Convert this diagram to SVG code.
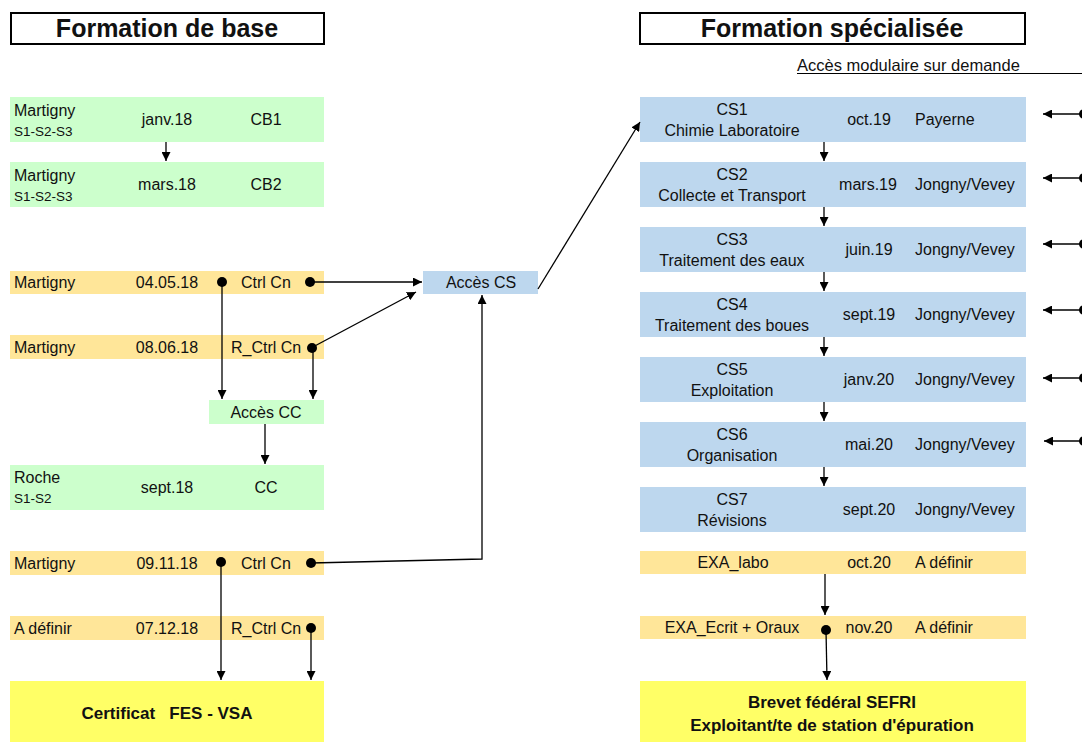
<svg xmlns="http://www.w3.org/2000/svg" width="1082" height="742" viewBox="0 0 1082 742">
<defs>
<marker id="ah" viewBox="0 0 10 10" refX="10" refY="5" markerWidth="9" markerHeight="9" markerUnits="userSpaceOnUse" orient="auto"><path d="M0,0 L10,5 L0,10 z" fill="#000"/></marker>
</defs>
<style>
text{font-family:"Liberation Sans",Arial,sans-serif;font-size:16px;fill:#111}
.s{font-size:13.5px}
.t{font-size:25px;font-weight:bold;text-anchor:middle}
.b{font-size:17px;font-weight:bold;text-anchor:middle;white-space:pre}
.m{text-anchor:middle}
.g{fill:#ccffcc}.o{fill:#ffe699}.bl{fill:#bdd7ee}.y{fill:#ffff66}
.c line,.c polyline{stroke:#000;stroke-width:1.3;fill:none}
.c .a{marker-end:url(#ah)}
.d{fill:#000}
</style>
<rect width="1082" height="742" fill="#fff"/>
<g id="title-base"><rect x="11" y="13" width="313" height="31" fill="#fff" stroke="#000" stroke-width="2"/><text class="t" x="167" y="37">Formation de base</text></g>
<g id="title-spec"><rect x="640" y="13" width="385" height="31" fill="#fff" stroke="#000" stroke-width="2"/><text class="t" x="832" y="37">Formation spécialisée</text></g>
<g id="acces-modulaire"><text x="797" y="71" style="font-size:16.5px">Accès modulaire sur demande</text><line x1="797" y1="73.5" x2="1082" y2="73.5" stroke="#000" stroke-width="1"/></g>

<g id="cb1"><rect class="g" x="10" y="97" width="314" height="45"/><text x="14" y="116">Martigny</text><text class="s" x="14" y="136">S1-S2-S3</text><text class="m" x="167" y="125">janv.18</text><text class="m" x="266" y="125">CB1</text></g>
<g id="cb2"><rect class="g" x="10" y="162" width="314" height="45"/><text x="14" y="181">Martigny</text><text class="s" x="14" y="201">S1-S2-S3</text><text class="m" x="167" y="190">mars.18</text><text class="m" x="266" y="190">CB2</text></g>
<g id="ctrl1"><rect class="o" x="10" y="271" width="314" height="23"/><text x="14" y="288">Martigny</text><text class="m" x="167" y="288">04.05.18</text><text x="241" y="288">Ctrl Cn</text></g>
<g id="rctrl1"><rect class="o" x="10" y="335" width="314" height="24"/><text x="14" y="353">Martigny</text><text class="m" x="167" y="353">08.06.18</text><text x="231" y="353">R_Ctrl Cn</text></g>
<g id="acces-cc"><rect class="g" x="209" y="400" width="115" height="24"/><text class="m" x="266" y="418">Accès CC</text></g>
<g id="cc"><rect class="g" x="10" y="465" width="314" height="45"/><text x="14" y="483">Roche</text><text class="s" x="14" y="503">S1-S2</text><text class="m" x="167" y="493">sept.18</text><text class="m" x="266" y="493">CC</text></g>
<g id="ctrl2"><rect class="o" x="10" y="551" width="314" height="24"/><text x="14" y="569">Martigny</text><text class="m" x="167" y="569">09.11.18</text><text x="241" y="569">Ctrl Cn</text></g>
<g id="rctrl2"><rect class="o" x="10" y="616" width="314" height="24"/><text x="14" y="634">A définir</text><text class="m" x="167" y="634">07.12.18</text><text x="231" y="634">R_Ctrl Cn</text></g>
<g id="certificat"><rect class="y" x="10" y="681" width="314" height="61"/><text class="b" x="167" y="719">Certificat   FES - VSA</text></g>
<g id="acces-cs"><rect class="bl" x="423" y="271" width="115" height="23"/><text class="m" x="481" y="288">Accès CS</text></g>

<g id="cs1"><rect class="bl" x="640" y="97" width="386" height="45"/><text class="m" x="732" y="115">CS1</text><text class="m" x="732" y="136">Chimie Laboratoire</text><text class="m" x="869" y="125">oct.19</text><text x="915" y="125">Payerne</text></g>
<g id="cs2"><rect class="bl" x="640" y="162" width="386" height="45"/><text class="m" x="732" y="180">CS2</text><text class="m" x="732" y="201">Collecte et Transport</text><text class="m" x="868" y="190">mars.19</text><text x="915" y="190">Jongny/Vevey</text></g>
<g id="cs3"><rect class="bl" x="640" y="227" width="386" height="45"/><text class="m" x="732" y="245">CS3</text><text class="m" x="732" y="266">Traitement des eaux</text><text class="m" x="869" y="255">juin.19</text><text x="915" y="255">Jongny/Vevey</text></g>
<g id="cs4"><rect class="bl" x="640" y="292" width="386" height="45"/><text class="m" x="732" y="310">CS4</text><text class="m" x="732" y="331">Traitement des boues</text><text class="m" x="869" y="320">sept.19</text><text x="915" y="320">Jongny/Vevey</text></g>
<g id="cs5"><rect class="bl" x="640" y="357" width="386" height="45"/><text class="m" x="732" y="375">CS5</text><text class="m" x="732" y="396">Exploitation</text><text class="m" x="869" y="385">janv.20</text><text x="915" y="385">Jongny/Vevey</text></g>
<g id="cs6"><rect class="bl" x="640" y="422" width="386" height="45"/><text class="m" x="732" y="440">CS6</text><text class="m" x="732" y="461">Organisation</text><text class="m" x="869" y="450">mai.20</text><text x="915" y="450">Jongny/Vevey</text></g>
<g id="cs7"><rect class="bl" x="640" y="487" width="386" height="45"/><text class="m" x="732" y="505">CS7</text><text class="m" x="732" y="526">Révisions</text><text class="m" x="869" y="515">sept.20</text><text x="915" y="515">Jongny/Vevey</text></g>
<g id="exa-labo"><rect class="o" x="640" y="551" width="386" height="23"/><text class="m" x="733" y="568">EXA_labo</text><text class="m" x="869" y="568">oct.20</text><text x="915" y="568">A définir</text></g>
<g id="exa-ecrit"><rect class="o" x="640" y="616" width="386" height="23"/><text class="m" x="732" y="633">EXA_Ecrit + Oraux</text><text class="m" x="869" y="633">nov.20</text><text x="915" y="633">A définir</text></g>
<g id="brevet"><rect class="y" x="640" y="681" width="386" height="61"/><text class="b" x="832" y="708">Brevet fédéral SEFRI</text><text class="b" x="832" y="731">Exploitant/te de station d'épuration</text></g>

<g id="connectors" class="c">
<line class="a" x1="166" y1="142" x2="166" y2="161"/>
<line class="a" x1="310" y1="282" x2="422" y2="282"/>
<line class="a" x1="222" y1="282" x2="222" y2="399"/>
<line class="a" x1="311" y1="348" x2="416" y2="292"/>
<line class="a" x1="313" y1="348" x2="313" y2="399"/>
<line class="a" x1="265" y1="424" x2="265" y2="464"/>
<polyline class="a" points="311,563 482,559 482,295"/>
<line class="a" x1="221" y1="562" x2="221" y2="680"/>
<line class="a" x1="311" y1="628" x2="311" y2="680"/>
<line class="a" x1="538" y1="289" x2="640" y2="122"/>
<line class="a" x1="824" y1="142" x2="824" y2="161"/>
<line class="a" x1="824" y1="207" x2="824" y2="226"/>
<line class="a" x1="824" y1="272" x2="824" y2="291"/>
<line class="a" x1="824" y1="337" x2="824" y2="356"/>
<line class="a" x1="824" y1="402" x2="824" y2="421"/>
<line class="a" x1="824" y1="467" x2="824" y2="486"/>
<line class="a" x1="825" y1="574" x2="825" y2="615"/>
<line class="a" x1="826" y1="630" x2="827" y2="680"/>
<line class="a" x1="1083" y1="114" x2="1043" y2="114"/>
<line class="a" x1="1083" y1="178" x2="1043" y2="178"/>
<line class="a" x1="1083" y1="244" x2="1043" y2="244"/>
<line class="a" x1="1083" y1="310" x2="1043" y2="310"/>
<line class="a" x1="1083" y1="378" x2="1043" y2="378"/>
<line class="a" x1="1083" y1="441" x2="1044" y2="441"/>
<circle class="d" cx="222" cy="282" r="5"/>
<circle class="d" cx="310" cy="282" r="5"/>
<circle class="d" cx="312" cy="348" r="5"/>
<circle class="d" cx="221" cy="562" r="5"/>
<circle class="d" cx="311" cy="563" r="5"/>
<circle class="d" cx="311" cy="628" r="5"/>
<circle class="d" cx="826" cy="630" r="5"/>
<circle class="d" cx="1084" cy="114" r="5"/>
<circle class="d" cx="1084" cy="178" r="5"/>
<circle class="d" cx="1084" cy="244" r="5"/>
<circle class="d" cx="1084" cy="310" r="5"/>
<circle class="d" cx="1084" cy="378" r="5"/>
<circle class="d" cx="1084" cy="441" r="5"/>
</g>
</svg>
